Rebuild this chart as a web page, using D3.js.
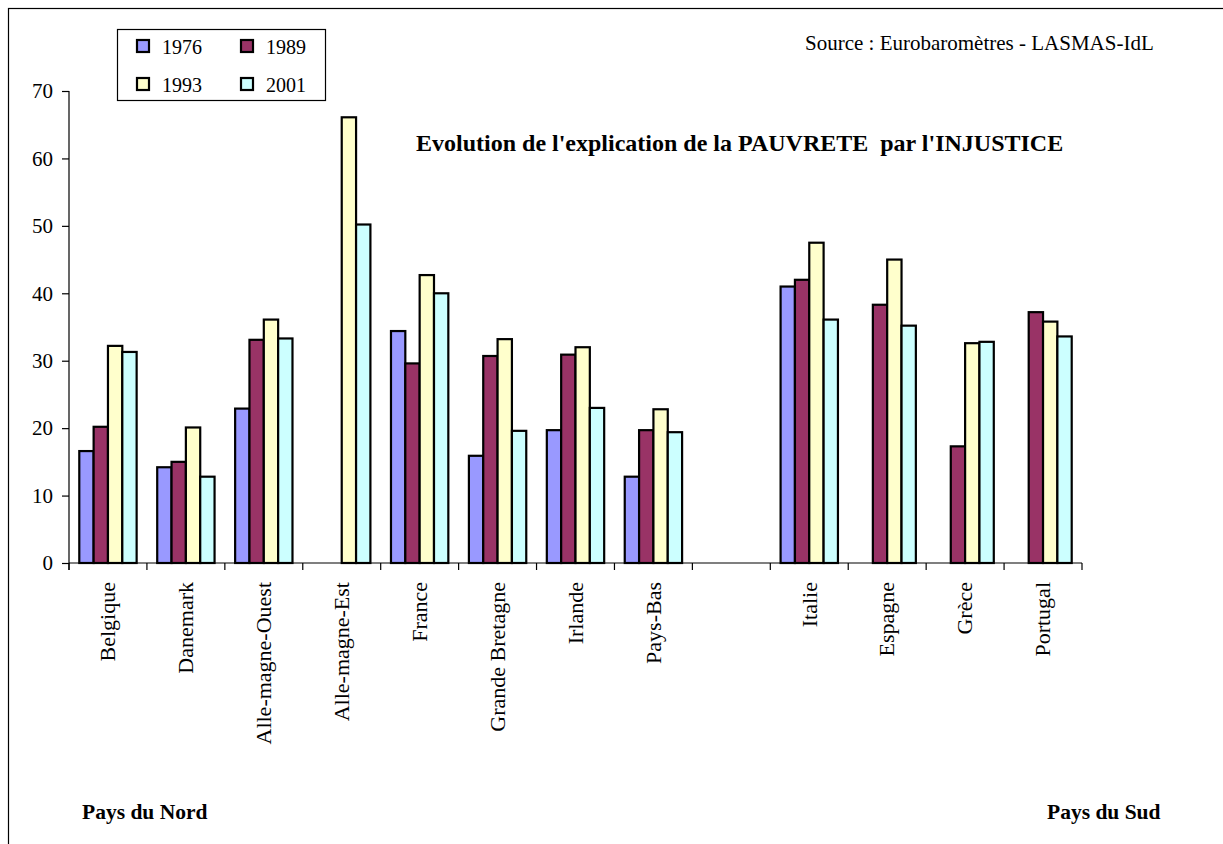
<!DOCTYPE html>
<html><head><meta charset="utf-8">
<script src="https://cdn.jsdelivr.net/npm/d3@7/dist/d3.min.js"></script>
<style>
html,body{margin:0;padding:0;background:#fff;}
svg text{font-family:"Liberation Serif","Times New Roman",serif;fill:#000;}
</style></head>
<body>
<svg id="c" width="1223" height="844"></svg>
<script>
const categories = ["Belgique","Danemark","Alle-magne-Ouest","Alle-magne-Est","France","Grande Bretagne","Irlande","Pays-Bas","","Italie","Espagne","Grèce","Portugal"];
const years = ["1976","1989","1993","2001"];
const v1976 = [16.6,14.2,22.9,null,34.4,15.9,19.7,12.8,null,41.0,null,null,null];
const v1989 = [20.2,15.0,33.1,null,29.6,30.7,30.9,19.7,null,42.0,38.3,17.3,37.2];
const v1993 = [32.2,20.1,36.1,66.1,42.7,33.2,32.0,22.8,null,47.5,45.0,32.6,35.8];
const v2001 = [31.3,12.8,33.3,50.2,40.0,19.6,23.0,19.4,null,36.1,35.2,32.8,33.6];
const yTicks = [0,10,20,30,40,50,60,70];
const colors = ["#9999FF","#993366","#FFFFCC","#CCFFFF"];
const series = [v1976,v1989,v1993,v2001];

const svg = d3.select("#c");
// outer frame
svg.append("rect").attr("x",8.5).attr("y",8.5).attr("width",1400).attr("height",1000)
  .attr("fill","none").attr("stroke","#000").attr("stroke-width",1.2);

const pLeft=69, pRight=1082, pTop=91, pBase=563;
const x0 = d3.scaleBand().domain(categories.map((c,i)=>i)).range([pLeft,pRight]).padding(0);
const bw = x0.bandwidth();
const x1 = d3.scaleBand().domain(years).range([bw*0.132, bw*0.868]).padding(0);
const y = d3.scaleLinear().domain([0,70]).range([pBase,pTop]);

// bars
categories.forEach((c,i)=>{
  const g = svg.append("g").attr("transform",`translate(${x0(i)},0)`);
  years.forEach((yr,k)=>{
    const v = series[k][i];
    if(v==null) return;
    g.append("rect").attr("x",x1(yr)).attr("y",y(v)).attr("width",x1.bandwidth()).attr("height",y(0)-y(v))
     .attr("fill",colors[k]).attr("stroke","#000").attr("stroke-width",2.2);
  });
});

// y axis
const ya = svg.append("g").attr("transform",`translate(${pLeft},0)`)
  .call(d3.axisLeft(y).tickValues(yTicks).tickSize(7).tickPadding(9).tickSizeOuter(0));
ya.selectAll("path,line").attr("stroke","#000").attr("stroke-width",1.2);
ya.selectAll("text").style("font-size","21px").style("font-family","Liberation Serif");
ya.select(".domain").attr("d",`M0,${pBase+7}V${pTop}`);

// x axis
const xa = svg.append("g").attr("transform",`translate(0,${pBase})`);
xa.append("line").attr("x1",pLeft).attr("x2",pRight).attr("y1",0).attr("y2",0).attr("stroke","#000").attr("stroke-width",1.2);
const bounds = categories.map((c,i)=>x0(i)).concat([pRight]);
xa.selectAll("line.t").data(bounds).enter().append("line").attr("class","t")
  .attr("x1",d=>d).attr("x2",d=>d).attr("y1",0).attr("y2",7).attr("stroke","#000").attr("stroke-width",1.2);
xa.selectAll("text.cat").data(categories).enter().append("text").attr("class","cat")
  .attr("transform",(d,i)=>`translate(${x0(i)+bw/2},${582-pBase}) rotate(-90)`)
  .attr("text-anchor","end").attr("dy","0.33em").style("font-size","22px").text(d=>d);

// legend
const lg = svg.append("g");
lg.append("rect").attr("x",117.5).attr("y",29.5).attr("width",208).attr("height",71).attr("fill","#fff").attr("stroke","#000").attr("stroke-width",1.2);
const lpos = [[137,40],[241,40],[137,78],[241,78]];
years.forEach((yr,k)=>{
  lg.append("rect").attr("x",lpos[k][0]).attr("y",lpos[k][1]).attr("width",12).attr("height",12)
    .attr("fill",colors[k]).attr("stroke","#000").attr("stroke-width",2.2);
  lg.append("text").attr("x",lpos[k][0]+25).attr("y",lpos[k][1]+14).style("font-size","20px").text(yr);
});

// texts
svg.append("text").attr("x",805).attr("y",50).style("font-size","21px").text("Source : Eurobaromètres - LASMAS-IdL");
svg.append("text").attr("x",416).attr("y",151).style("font-size","24px").style("font-weight","bold").style("white-space","pre")
  .text("Evolution de l'explication de la PAUVRETE  par l'INJUSTICE");
svg.append("text").attr("x",82).attr("y",819).style("font-size","21.5px").style("font-weight","bold").text("Pays du Nord");
svg.append("text").attr("x",1047).attr("y",819).style("font-size","21.5px").style("font-weight","bold").text("Pays du Sud");
</script>
</body></html>
